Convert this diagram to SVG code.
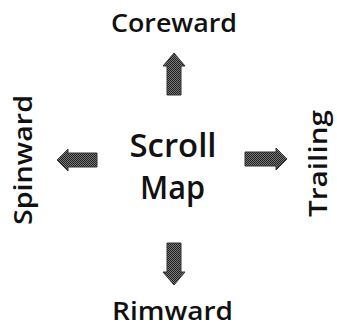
<svg xmlns="http://www.w3.org/2000/svg" width="337" height="326" viewBox="0 0 337 326">
<style>
.lbl{font-family:"Open Sans","Noto Sans","Liberation Sans",sans-serif;font-weight:600;font-size:25px;fill:#111;text-anchor:middle}
.ctr{font-family:"Open Sans","Noto Sans","Liberation Sans",sans-serif;font-weight:600;font-size:32px;fill:#111;text-anchor:middle}
.arr{fill:url(#ht);stroke:#333;stroke-width:1}
</style>
<defs>
<pattern id="ht" width="2" height="2" patternUnits="userSpaceOnUse">
<rect width="2" height="2" fill="#7a7a7a"/>
<rect width="1" height="1" fill="#1e1e1e"/>
<rect x="1" y="1" width="1" height="1" fill="#1e1e1e"/>
</pattern>
</defs>
<rect width="337" height="326" fill="#fff"/>
<g id="center"><text class="ctr" x="173" y="157" textLength="87" lengthAdjust="spacingAndGlyphs">Scroll</text><text class="ctr" x="172.5" y="199" textLength="65" lengthAdjust="spacingAndGlyphs">Map</text></g>
<g id="coreward"><text class="lbl" x="174" y="32" textLength="126" lengthAdjust="spacingAndGlyphs">Coreward</text></g>
<g id="rimward"><text class="lbl" x="172.5" y="320" textLength="121" lengthAdjust="spacingAndGlyphs">Rimward</text></g>
<g id="spinward"><text class="lbl" transform="translate(32,160) rotate(-90)" x="0" y="0" textLength="130" lengthAdjust="spacingAndGlyphs">Spinward</text></g>
<g id="trailing"><text class="lbl" transform="translate(327,163.5) rotate(-90)" x="0" y="0" textLength="107" lengthAdjust="spacingAndGlyphs">Trailing</text></g>
<g id="connectors">
<path class="arr" d="M174,53 L185,66 L181,66 L181,95 L167,95 L167,66 L163,66 Z"/>
<path class="arr" d="M174,285 L185,272 L181,272 L181,243 L167,243 L167,272 L163,272 Z"/>
<path class="arr" d="M57,160 L68,149 L68,153 L97,153 L97,167 L68,167 L68,171 Z"/>
<path class="arr" d="M287,159 L276,148 L276,152 L245,152 L245,166 L276,166 L276,170 Z"/>
</g>
</svg>
